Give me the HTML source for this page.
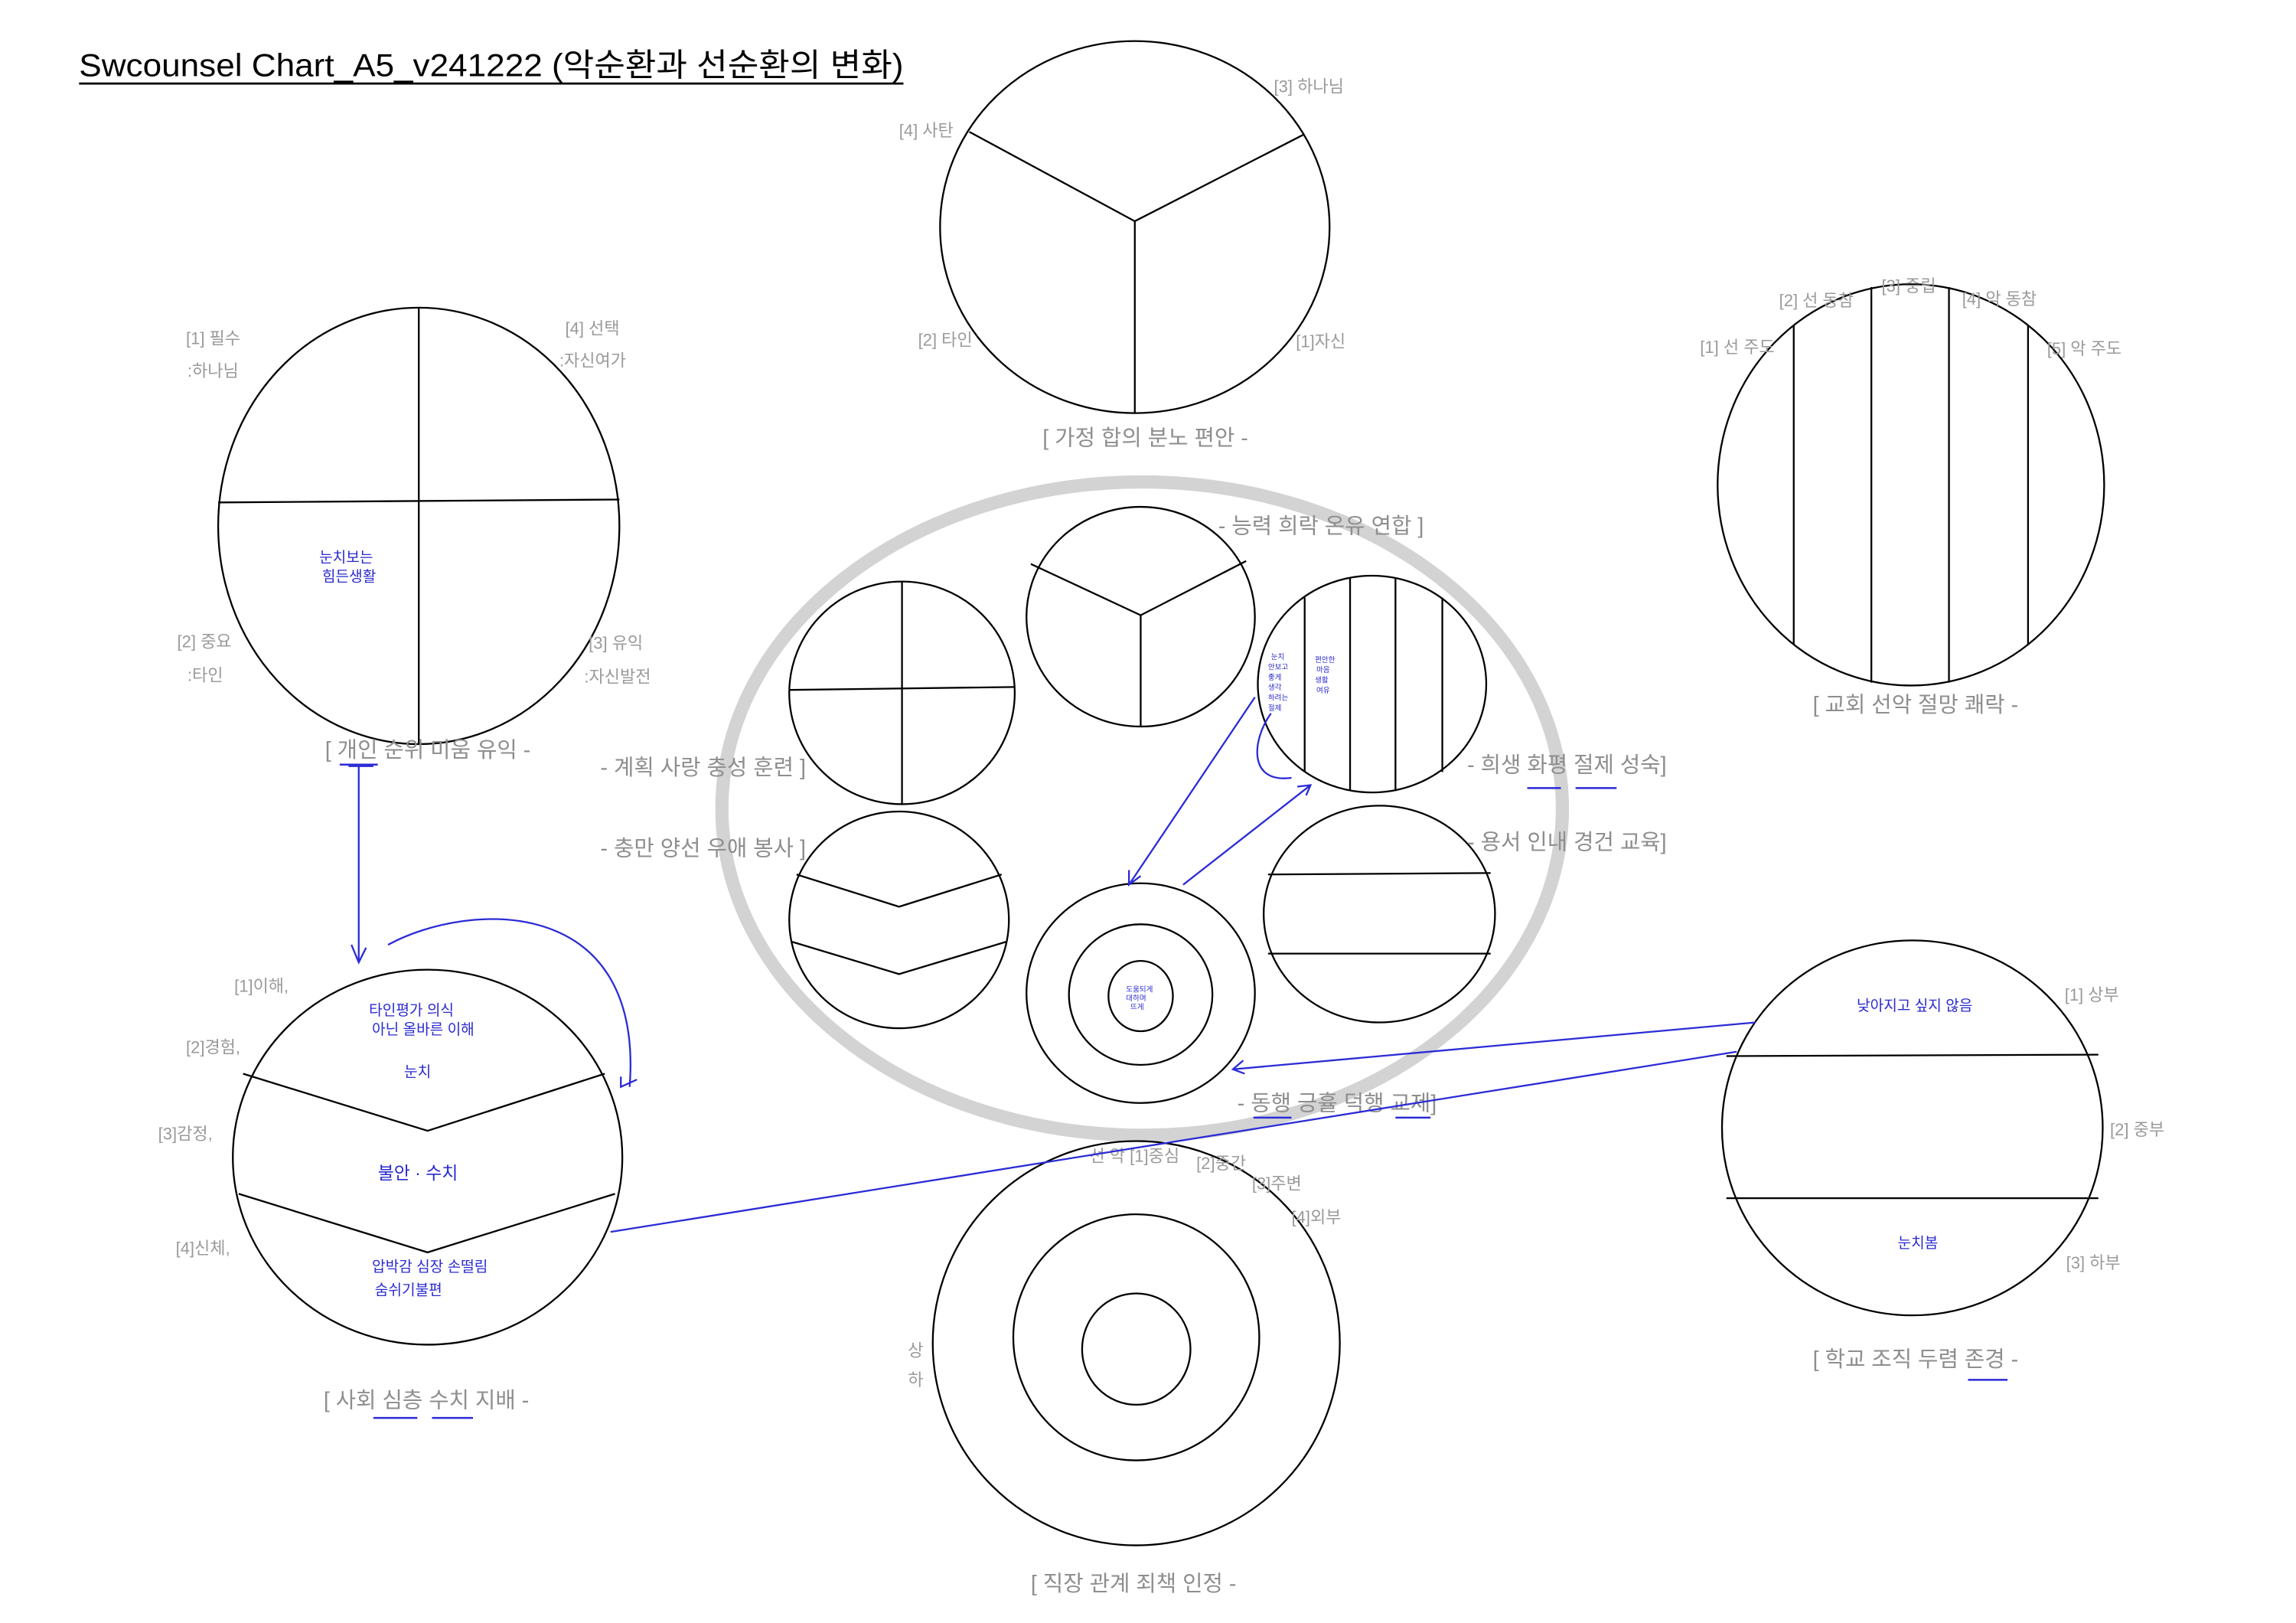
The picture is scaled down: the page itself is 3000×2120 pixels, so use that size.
<!DOCTYPE html>
<html><head><meta charset="utf-8"><style>
html,body{margin:0;padding:0;background:#fff;}
svg{display:block;}
text{font-family:"Liberation Sans","Noto Sans CJK KR",sans-serif;}
.g{fill:#9a9a9a;font-size:11.5px;}
.c{fill:#8e8e8e;font-size:15px;}
.b{fill:#2a2ad0;font-size:10px;}
.k{fill:none;stroke:#000;stroke-width:1.2;}
.bl{fill:none;stroke:#2b2bd6;stroke-width:1.2;}
</style></head><body>
<svg width="3000" height="2120" viewBox="0 0 1568 1108" xmlns="http://www.w3.org/2000/svg">
<rect width="1568" height="1108" fill="#fff"/>
<text x="54" y="52" font-size="22" fill="#000" textLength="563" lengthAdjust="spacingAndGlyphs">Swcounsel Chart_A5_v241222 (악순환과 선순환의 변화)</text>
<line x1="54" y1="57" x2="617" y2="57" stroke="#000" stroke-width="1.4"/>

<!-- A -->
<ellipse class="k" cx="286" cy="359" rx="137" ry="149"/>
<line class="k" x1="286" y1="210" x2="286" y2="508"/>
<line class="k" x1="149" y1="343" x2="423" y2="341"/>
<text class="g" x="127" y="235">[1] 필수</text>
<text class="g" x="128" y="257">:하나님</text>
<text class="g" x="386" y="228">[4] 선택</text>
<text class="g" x="382" y="250">:자신여가</text>
<text class="g" x="121" y="442">[2] 중요</text>
<text class="g" x="128" y="465">:타인</text>
<text class="g" x="402" y="443">[3] 유익</text>
<text class="g" x="399" y="466">:자신발전</text>
<text class="b" x="218" y="384">눈치보는</text>
<text class="b" x="220" y="397">힘든생활</text>
<text class="c" x="222" y="517">[ 개인 순위 미움 유익 -</text>

<!-- B -->
<ellipse class="k" cx="775" cy="155" rx="133" ry="127"/>
<polyline class="k" points="662,90 775,151 890,92"/>
<line class="k" x1="775" y1="151" x2="775" y2="282"/>
<text class="g" x="614" y="93">[4] 사탄</text>
<text class="g" x="870" y="63">[3] 하나님</text>
<text class="g" x="627" y="236">[2] 타인</text>
<text class="g" x="885" y="237">[1]자신</text>
<text class="c" x="712" y="304">[ 가정 합의 분노 편안 -</text>

<!-- C -->
<ellipse class="k" cx="1305" cy="331" rx="132" ry="137"/>
<line class="k" x1="1225" y1="222" x2="1225" y2="440"/>
<line class="k" x1="1278" y1="196" x2="1278" y2="466"/>
<line class="k" x1="1331" y1="196" x2="1331" y2="466"/>
<line class="k" x1="1385" y1="222" x2="1385" y2="440"/>
<text class="g" x="1161" y="241">[1] 선 주도</text>
<text class="g" x="1215" y="209">[2] 선 동참</text>
<text class="g" x="1285" y="199">[3] 중립</text>
<text class="g" x="1340" y="208">[4] 악 동참</text>
<text class="g" x="1398" y="242">[5] 악 주도</text>
<text class="c" x="1238" y="486">[ 교회 선악 절망 쾌락 -</text>

<!-- big gray ellipse -->
<ellipse cx="780" cy="552" rx="287" ry="223" fill="none" stroke="#d3d3d3" stroke-width="9"/>

<ellipse class="k" cx="616" cy="473" rx="77" ry="76"/>
<line class="k" x1="616" y1="397" x2="616" y2="549"/>
<line class="k" x1="539" y1="471" x2="693" y2="469"/>

<ellipse class="k" cx="779" cy="421" rx="78" ry="75"/>
<polyline class="k" points="704,385 779,420 851,383"/>
<line class="k" x1="779" y1="420" x2="779" y2="496"/>

<ellipse class="k" cx="937" cy="467" rx="78" ry="74"/>
<line class="k" x1="891" y1="408" x2="891" y2="527"/>
<line class="k" x1="922" y1="395" x2="922" y2="540"/>
<line class="k" x1="953" y1="395" x2="953" y2="540"/>
<line class="k" x1="985" y1="408" x2="985" y2="527"/>
<text class="b" style="font-size:5px" x="868" y="450">눈치</text>
<text class="b" style="font-size:5px" x="866" y="457">안보고</text>
<text class="b" style="font-size:5px" x="866" y="464">좋게</text>
<text class="b" style="font-size:5px" x="866" y="471">생각</text>
<text class="b" style="font-size:5px" x="866" y="478">하려는</text>
<text class="b" style="font-size:5px" x="866" y="485">절제</text>
<text class="b" style="font-size:5px" x="898" y="452">편안한</text>
<text class="b" style="font-size:5px" x="899" y="459">마음</text>
<text class="b" style="font-size:5px" x="898" y="466">생활</text>
<text class="b" style="font-size:5px" x="899" y="473">여유</text>

<ellipse class="k" cx="614" cy="628" rx="75" ry="74"/>
<polyline class="k" points="544,597 614,619 684,597"/>
<polyline class="k" points="541,643 614,665 687,643"/>

<ellipse class="k" cx="779" cy="678" rx="78" ry="75"/>
<ellipse class="k" cx="779" cy="679" rx="49" ry="48"/>
<ellipse class="k" cx="779" cy="680" rx="22" ry="24"/>
<text class="b" style="font-size:5px" x="769" y="677">도움되게</text>
<text class="b" style="font-size:5px" x="769" y="683">대하며</text>
<text class="b" style="font-size:5px" x="772" y="689">뜨게</text>

<ellipse class="k" cx="942" cy="624" rx="79" ry="74"/>
<line class="k" x1="866" y1="597" x2="1018" y2="596"/>
<line class="k" x1="866" y1="651" x2="1018" y2="651"/>

<text class="c" x="832" y="364">- 능력 희락 온유 연합 ]</text>
<text class="c" x="410" y="529">- 계획 사랑 충성 훈련 ]</text>
<text class="c" x="1002" y="527">- 희생 화평 절제 성숙]</text>
<text class="c" x="410" y="584">- 충만 양선 우애 봉사 ]</text>
<text class="c" x="1002" y="580">- 용서 인내 경건 교육]</text>
<text class="c" x="845" y="758">- 동행 긍휼 덕행 교제]</text>

<!-- D -->
<ellipse class="k" cx="292" cy="790" rx="133" ry="128"/>
<polyline class="k" points="166,733 292,772 413,733"/>
<polyline class="k" points="163,815 292,855 420,815"/>
<text class="g" x="160" y="677">[1]이해,</text>
<text class="g" x="127" y="719">[2]경험,</text>
<text class="g" x="108" y="778">[3]감정,</text>
<text class="g" x="120" y="856">[4]신체,</text>
<text class="b" x="252" y="693">타인평가 의식</text>
<text class="b" x="254" y="706">아닌 올바른 이해</text>
<text class="b" x="276" y="735">눈치</text>
<text class="b" style="font-size:12px" x="258" y="805">불안 · 수치</text>
<text class="b" x="254" y="868">압박감 심장 손떨림</text>
<text class="b" x="256" y="884">숨쉬기불편</text>
<text class="c" x="221" y="961">[ 사회 심층 수치 지배 -</text>

<!-- bottom center -->
<ellipse class="k" cx="776" cy="917" rx="139" ry="138"/>
<ellipse class="k" cx="776" cy="913" rx="84" ry="84"/>
<ellipse class="k" cx="776" cy="921" rx="37" ry="38"/>
<text class="g" x="744" y="793">선 악 [1]중심</text>
<text class="g" x="817" y="798">[2]중간</text>
<text class="g" x="855" y="812">[3]주변</text>
<text class="g" x="882" y="835">[4]외부</text>
<text class="g" x="620" y="926">상</text>
<text class="g" x="620" y="946">하</text>
<text class="c" x="704" y="1086">[ 직장 관계 죄책 인정 -</text>

<!-- E -->
<ellipse class="k" cx="1306" cy="770" rx="130" ry="128"/>
<line class="k" x1="1179" y1="721" x2="1433" y2="720"/>
<line class="k" x1="1179" y1="818" x2="1433" y2="818"/>
<text class="g" x="1410" y="683">[1] 상부</text>
<text class="g" x="1441" y="775">[2] 중부</text>
<text class="g" x="1411" y="866">[3] 하부</text>
<text class="b" x="1268" y="690">낮아지고 싶지 않음</text>
<text class="b" x="1296" y="852">눈치봄</text>
<text class="c" x="1238" y="933">[ 학교 조직 두렴 존경 -</text>

<!-- blue connectors -->
<line class="bl" x1="238" y1="523" x2="255" y2="523"/>
<line class="bl" x1="245" y1="523" x2="245" y2="657"/>
<polyline class="bl" points="240,645 245,657 250,647"/>
<path class="bl" d="M265,645 C320,615 440,610 430,742"/>
<polyline class="bl" points="424,735 424,742 435,737"/>
<line class="bl" x1="417" y1="841" x2="1186" y2="718"/>
<line class="bl" x1="1199" y1="698" x2="842" y2="730"/>
<polyline class="bl" points="849,724 842,730 850,733"/>
<line class="bl" x1="857" y1="476" x2="771" y2="604"/>
<polyline class="bl" points="771,594 771,604 779,598"/>
<line class="bl" x1="808" y1="604" x2="895" y2="536"/>
<polyline class="bl" points="886,537 895,536 892,543"/>
<path class="bl" d="M868,487 C855,505 852,535 882,531"/>
<!-- underlines -->
<g stroke="#2b2bd6" stroke-width="1.3">
<line x1="232" y1="522" x2="258" y2="522"/>
<line x1="255" y1="968" x2="285" y2="968"/>
<line x1="295" y1="968" x2="323" y2="968"/>
<line x1="1043" y1="538" x2="1066" y2="538"/>
<line x1="1076" y1="538" x2="1104" y2="538"/>
<line x1="856" y1="763" x2="882" y2="763"/>
<line x1="953" y1="763" x2="977" y2="763"/>
<line x1="1344" y1="942" x2="1371" y2="942"/>
</g>
</svg>
</body></html>
